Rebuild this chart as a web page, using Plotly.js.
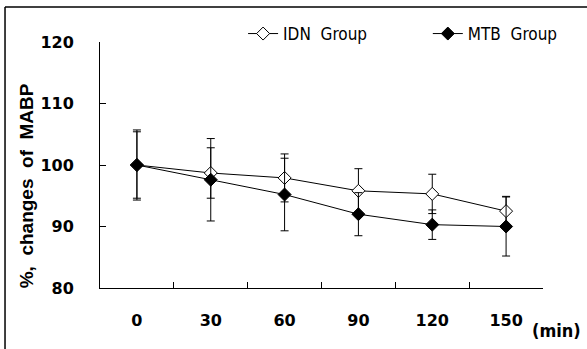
<!DOCTYPE html>
<html>
<head>
<meta charset="utf-8">
<script src="https://cdn.plot.ly/plotly-3.0.1.min.js"></script>
<style>html,body{margin:0;padding:0;background:#fff;}#chart{width:587px;height:349px;}</style>
</head>
<body>
<div id="chart"></div>
<script>
const times = ['0', '30', '60', '90', '120', '150'];
const idnMean = [100, 98.7, 97.9, 95.8, 95.3, 92.5];
const idnSd = [5.7, 4.1, 3.9, 3.6, 3.2, 2.4];
const mtbMean = [100, 97.6, 95.2, 92.0, 90.3, 90.0];
const mtbSd = [5.4, 6.7, 5.9, 3.5, 2.4, 4.8];
const yTicks = [80, 90, 100, 110, 120];

const idn = {
  x: times, y: idnMean, type: 'scatter', mode: 'lines+markers',
  name: 'IDN\u00a0 Group', legend: 'legend',
  line: {color: '#000', width: 1},
  marker: {symbol: 'diamond', size: 10, color: '#fff', line: {color: '#000', width: 1}},
  error_y: {type: 'data', array: idnSd, visible: true, color: '#000', thickness: 1, width: 4}
};
const mtb = {
  x: times, y: mtbMean, type: 'scatter', mode: 'lines+markers',
  name: 'MTB\u00a0 Group', legend: 'legend2',
  line: {color: '#000', width: 1},
  marker: {symbol: 'diamond', size: 10, color: '#000', line: {color: '#000', width: 1}},
  error_y: {type: 'data', array: mtbSd, visible: true, color: '#000', thickness: 1, width: 4}
};

const legFont = {family: 'DejaVu Sans Condensed, DejaVu Sans', size: 17, color: '#000'};

const layout = {
  width: 587, height: 349,
  margin: {l: 100, r: 44, t: 42, b: 61},
  paper_bgcolor: '#fff', plot_bgcolor: '#fff',
  showlegend: true,
  legend: {
    orientation: 'h', x: 0.323, xanchor: 'left', y: 1.0325, yanchor: 'middle',
    font: legFont, bgcolor: 'rgba(0,0,0,0)'
  },
  legend2: {
    orientation: 'h', x: 0.740, xanchor: 'left', y: 1.0325, yanchor: 'middle',
    font: legFont, bgcolor: 'rgba(0,0,0,0)'
  },
  xaxis: {
    type: 'category', range: [-0.5, 5.5], tickson: 'boundaries', ticks: 'inside', ticklen: 6,
    tickcolor: '#000', showline: true, linecolor: '#000', linewidth: 1,
    showgrid: false, zeroline: false, ticklabelstandoff: 18,
    tickfont: {family: 'DejaVu Sans', size: 16, color: '#000', weight: 'bold'}
  },
  yaxis: {
    range: [80, 120], tickvals: yTicks, ticktext: yTicks.map(String),
    ticks: 'inside', ticklen: 6, tickcolor: '#000',
    showline: true, linecolor: '#000', linewidth: 1,
    showgrid: false, zeroline: false, ticklabelstandoff: 22,
    tickfont: {family: 'DejaVu Sans', size: 16, color: '#000', weight: 'bold'}
  },
  annotations: [
    {text: '%,\u00a0 changes\u00a0 of\u00a0 MABP', xref: 'paper', yref: 'paper', x: -0.165, y: 0.417,
     textangle: -90, showarrow: false, xanchor: 'center', yanchor: 'middle',
     font: {family: 'Liberation Sans, Arial', size: 19, color: '#000', weight: 'bold'}},
    {text: '(min)', xref: 'paper', yref: 'paper', x: 1.031, y: -0.174,
     showarrow: false, xanchor: 'center', yanchor: 'middle',
     font: {family: 'DejaVu Sans Condensed, DejaVu Sans', size: 18, color: '#000', weight: 'bold'}}
  ],
  shapes: [
    {type: 'line', xref: 'paper', yref: 'paper', x0: -0.2144, x1: 1.2, y0: 1.1423, y1: 1.1423,
     line: {color: '#000', width: 1.5}},
    {type: 'line', xref: 'paper', yref: 'paper', x0: -0.2144, x1: -0.2144, y0: 1.1423, y1: -0.35,
     line: {color: '#000', width: 1.5}}
  ]
};

Plotly.newPlot('chart', [idn, mtb], layout, {displayModeBar: false, staticPlot: true});
</script>
</body>
</html>
